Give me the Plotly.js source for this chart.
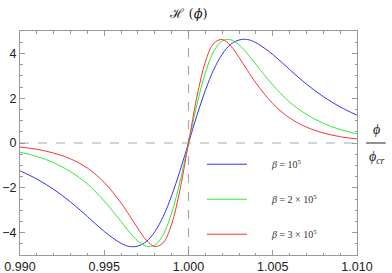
<!DOCTYPE html>
<html>
<head>
<meta charset="utf-8">
<script src="https://cdn.plot.ly/plotly-3.0.1.min.js"></script>
<style>html,body{margin:0;padding:0;background:#fff;}#chart{width:392px;height:273px;}</style>
</head>
<body>
<div id="chart"></div>
<script>
// phi / phi_cr sample positions
const phi = [0.990,0.991,0.992,0.993,0.994,0.995,0.996,0.9965,0.997,0.9975,0.998,0.9985,0.999,0.9995,1.000,
             1.0005,1.001,1.0015,1.002,1.0025,1.003,1.0035,1.004,1.005,1.006,1.007,1.008,1.009,1.010];
// H(phi)
const hBeta1 = [-1.24,-1.61,-2.07,-2.63,-3.28,-3.95,-4.48,-4.62,-4.60,-4.40,-3.96,-3.28,-2.35,-1.23,0,
                1.23,2.35,3.28,3.96,4.40,4.60,4.62,4.48,3.95,3.28,2.63,2.07,1.61,1.24];
const hBeta2 = [-0.41,-0.60,-0.88,-1.28,-1.83,-2.59,-3.51,-3.98,-4.38,-4.61,-4.56,-4.09,-3.13,-1.71,0,
                1.71,3.13,4.09,4.56,4.61,4.38,3.98,3.51,2.59,1.83,1.28,0.88,0.60,0.41];
const hBeta3 = [-0.18,-0.28,-0.45,-0.71,-1.12,-1.76,-2.68,-3.24,-3.82,-4.34,-4.62,-4.45,-3.62,-2.06,0,
                2.06,3.62,4.45,4.62,4.34,3.82,3.24,2.68,1.76,1.12,0.71,0.45,0.28,0.18];
const seriesNames = ['<i>β</i> = 10<sup>5</sup>', '<i>β</i> = 2 × 10<sup>5</sup>', '<i>β</i> = 3 × 10<sup>5</sup>'];
const xTickVals = [0.990, 0.995, 1.000, 1.005, 1.010];
const yTickVals = [-4, -2, 0, 2, 4];

const colors = ['rgb(50,50,255)', 'rgb(50,235,50)', 'rgb(255,50,50)'];
const ys = [hBeta1, hBeta2, hBeta3];
const pad = '\u2003\u2003';
const traces = ys.map((y, i) => ({
  x: phi, y: y, type: 'scatter', mode: 'lines',
  name: pad + seriesNames[i], legendgroup: 'g' + i,
  line: {color: colors[i], width: 1, shape: 'spline', smoothing: 1}
}));

const axisCommon = {
  showgrid: false, zeroline: false, showline: true, mirror: 'allticks',
  linecolor: '#999', linewidth: 1, ticks: 'inside', ticklen: 5, tickcolor: '#999',
  tickfont: {family: 'Liberation Sans, Arial, sans-serif', size: 12.5, color: '#222'}
};

const layout = {
  width: 392, height: 273,
  margin: {l: 20, r: 35, t: 31, b: 18},
  paper_bgcolor: '#fff', plot_bgcolor: '#fff',
  showlegend: true,
  legend: {x: 0.54, y: 0.47, xanchor: 'left', yanchor: 'top', bgcolor: 'rgba(0,0,0,0)',
           itemwidth: 40, traceorder: 'grouped', tracegroupgap: 16,
           font: {family: 'Liberation Serif, Times New Roman, serif', size: 10, color: '#333'}},
  title: {text: 'ℋ (<i>ϕ</i>)', x: 0.5015, xanchor: 'center', xref: 'paper',
          y: 0.952, yanchor: 'middle', yref: 'container',
          font: {family: 'DejaVu Serif, Liberation Serif, serif', size: 13, color: '#222'}},
  xaxis: Object.assign({}, axisCommon, {
    range: [0.990, 1.010], tickvals: xTickVals, tickformat: '.3f',
    minor: {dtick: 0.001, tick0: 0.990, ticks: 'inside', ticklen: 2.5, tickcolor: '#999'}
  }),
  yaxis: Object.assign({}, axisCommon, {
    range: [-5, 5], tickvals: yTickVals,
    minor: {dtick: 0.5, tick0: 0, ticks: 'inside', ticklen: 2.5, tickcolor: '#999'}
  }),
  shapes: [
    {type: 'line', xref: 'x', yref: 'paper', x0: 1.0, x1: 1.0, y0: 0, y1: 1,
     line: {color: '#aaa', width: 1.2, dash: 'dash'}, layer: 'below'},
    {type: 'line', xref: 'paper', yref: 'y', x0: 0, x1: 1, y0: 0, y1: 0,
     line: {color: '#aaa', width: 1.2, dash: 'dash'}, layer: 'below'},
    {type: 'line', xref: 'paper', yref: 'paper', x0: 1.027, x1: 1.085, y0: 0.50, y1: 0.50,
     line: {color: '#222', width: 1}}
  ],
  annotations: [
    {text: '<i>ϕ</i>', xref: 'paper', yref: 'paper', x: 1.057, y: 0.56, xanchor: 'center', yanchor: 'middle',
     showarrow: false, font: {family: 'Liberation Serif, serif', size: 14, color: '#222'}},
    {text: '<i>ϕ</i><sub><i>cr</i></sub>', xref: 'paper', yref: 'paper', x: 1.06, y: 0.435, xanchor: 'center', yanchor: 'middle',
     showarrow: false, font: {family: 'Liberation Serif, serif', size: 14, color: '#222'}}
  ]
};

Plotly.newPlot('chart', traces, layout, {staticPlot: true, displayModeBar: false});
</script>
</body>
</html>
